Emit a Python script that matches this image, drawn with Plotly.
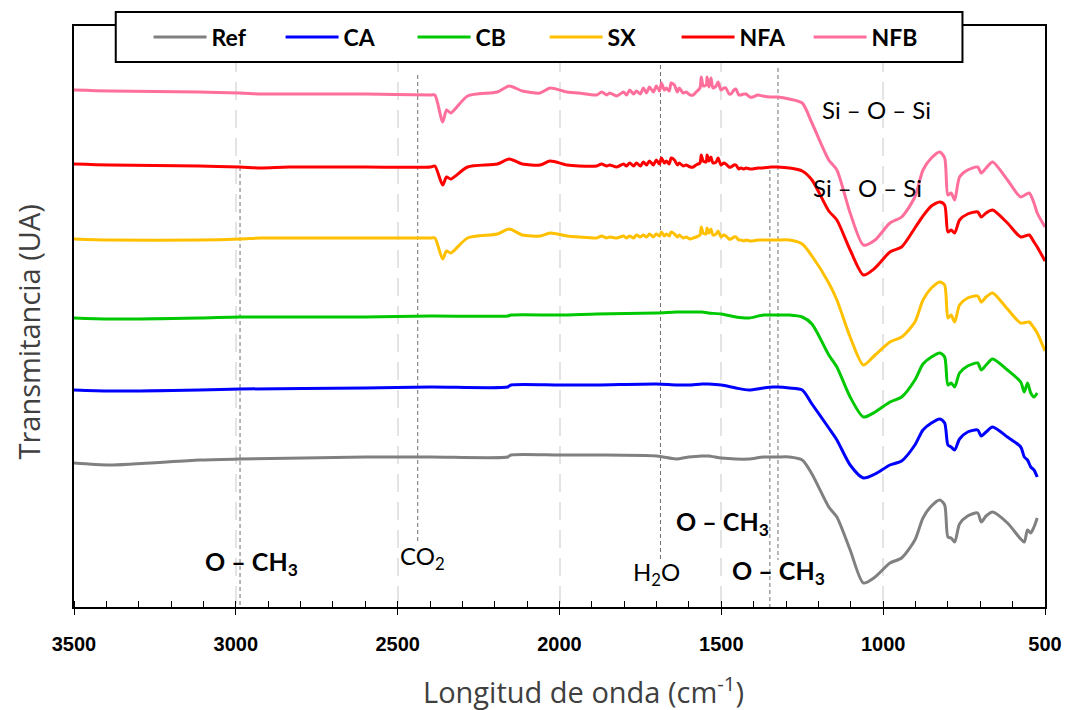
import plotly.graph_objects as go

# ---- FTIR spectra (transmittance, arbitrary units, vertically stacked) ----

# Wavenumber grid (cm-1) for SX, NFA, NFB
wn_a = [3500, 3389, 3113, 2987, 2923, 2837, 2600, 2398, 2385, 2361, 2349, 2336, 2284, 2192, 2155, 2115, 2060, 2029, 1977, 1940,
        1885, 1870, 1854, 1845, 1823, 1802, 1793, 1783, 1771, 1762,
        1750, 1741, 1731, 1722, 1710, 1701, 1691, 1685, 1676, 1670,
        1661, 1655, 1645, 1636, 1630, 1618, 1609, 1596, 1587, 1578,
        1566, 1562, 1556, 1547, 1544, 1538, 1532, 1526, 1516, 1510,
        1501, 1492, 1486, 1476, 1470, 1461, 1455, 1446, 1440, 1430,
        1424, 1412, 1403, 1387, 1372, 1347,
        1326, 1290, 1250, 1220, 1168, 1143, 1102, 1061, 1025, 979, 943, 902, 877, 851, 825, 810, 800, 790, 779, 764,
        739, 708, 697, 682, 662, 616, 575, 549, 534, 524, 500]

nfb = [517, 516, 515, 514, 513, 513, 513, 512, 512, 485, 497, 494, 511, 515, 521, 516, 514, 519, 515, 514,
       512, 515, 512, 514, 511, 515, 512, 517, 513, 516,
       513, 519, 514, 520, 515, 521, 516, 524, 517, 519,
       516, 524, 522, 515, 519, 514, 515, 512, 512, 515,
       519, 530, 521, 522, 530, 520, 529, 519, 521, 525,
       517, 519, 519, 513, 513, 517, 518, 512, 512, 513,
       513, 510, 510, 512, 511, 510,
       510, 508, 504, 484, 447, 437, 394, 362, 367, 384, 390, 410, 437, 449, 455, 449, 412, 414, 407, 430,
       437, 440, 434, 439, 445, 427, 410, 414, 404, 394, 380]

nfa = [443, 442, 441, 440, 439, 440, 440, 440, 441, 422, 430, 428, 440, 443, 448, 443, 442, 446, 442, 441,
       441, 443, 441, 442, 440, 443, 441, 444, 441, 444,
       441, 445, 442, 446, 442, 447, 443, 449, 444, 446,
       443, 449, 447, 442, 444, 441, 442, 440, 440, 442,
       444, 452, 446, 445, 452, 446, 450, 444, 445, 449,
       442, 444, 443, 440, 440, 442, 442, 438, 439, 438,
       439, 438, 438, 439, 439, 440,
       440, 439, 436, 427, 396, 387, 357, 332, 339, 355, 360, 379, 391, 401, 405, 402, 375, 377, 374, 387,
       393, 395, 390, 394, 397, 384, 370, 372, 365, 360, 346]

sx = [368, 367, 367, 368, 369, 369, 369, 369, 369, 348, 356, 354, 369, 373, 378, 372, 371, 374, 371, 370,
      369, 371, 369, 370, 369, 371, 369, 371, 369, 372,
      370, 372, 370, 373, 370, 373, 371, 375, 371, 373,
      371, 375, 373, 370, 372, 369, 370, 368, 369, 370,
      372, 380, 374, 373, 379, 374, 378, 372, 373, 376,
      370, 372, 371, 368, 368, 370, 370, 367, 367, 366,
      367, 366, 366, 367, 367, 367,
      367, 367, 363, 351, 324, 307, 270, 242, 252, 265, 270, 285, 307, 319, 325, 322, 289, 292, 285, 302,
      309, 311, 305, 310, 314, 298, 284, 285, 279, 274, 256]

# Wavenumber grid (cm-1) for Ref, CA, CB
wn_b = [3500, 3389, 3113, 2987, 2600, 2398, 2160, 2150, 2000, 1885,
        1700, 1640, 1600, 1560, 1540, 1500, 1455, 1415, 1370, 1340,
        1326, 1290, 1250, 1220, 1168, 1143, 1102, 1061, 1025, 979,
        943, 902, 877, 851, 825, 810, 800, 790, 779, 764,
        739, 708, 697, 682, 662, 616, 575, 564, 554, 544,
        534, 524]

cb = [289, 288, 289, 290, 290, 291, 291, 292, 292, 293,
      294, 295, 295, 295, 294, 293, 290, 289, 292, 292,
      292, 292, 290, 283, 252, 240, 210, 190, 195, 205,
      210, 227, 243, 250, 254, 250, 222, 224, 220, 234,
      241, 244, 237, 242, 248, 237, 225, 215, 224, 214,
      210, 214]

ca = [217, 216, 217, 218, 219, 220, 220, 222, 222, 222,
      223, 222, 222, 223, 223, 222, 219, 217, 219, 220,
      220, 219, 217, 203, 179, 167, 142, 129, 133, 142,
      146, 162, 177, 184, 188, 184, 162, 160, 157, 168,
      175, 177, 171, 175, 180, 170, 160, 150, 147, 140,
      137, 130]

ref = [144, 142, 147, 148, 150, 150, 150, 152, 152, 152,
       151, 148, 150, 151, 151, 149, 148, 148, 150, 150,
       150, 150, 147, 133, 100, 90, 57, 24, 30, 44,
       49, 67, 89, 101, 107, 102, 70, 69, 65, 83,
       91, 94, 85, 91, 95, 84, 68, 65, 77, 74,
       80, 89]

series = [
    ("Ref", wn_b, ref, "#808080"),
    ("CA", wn_b, ca, "#0000FF"),
    ("CB", wn_b, cb, "#00C800"),
    ("SX", wn_a, sx, "#FFC000"),
    ("NFA", wn_a, nfa, "#FF0000"),
    ("NFB", wn_a, nfb, "#FF6F9C"),
]

# Band assignments: (label, wavenumber, y of label, bold)
band_labels = [
    ("O – CH<sub>3</sub>", 2953, 44, True),
    ("CO<sub>2</sub>", 2422, 50, False),
    ("H<sub>2</sub>O", 1701, 34, False),
    ("O – CH<sub>3</sub>", 1495, 84, True),
    ("O – CH<sub>3</sub>", 1323, 35, True),
    ("Si – O – Si", 1022, 498, False),
    ("Si – O – Si", 1047, 420, False),
]

# Reference marker lines: (wavenumber, y top, y bottom)
band_lines = [
    (2987, 447, 0),
    (2438, 532, 64),
    (1688, 542, 47),
    (1350, 437, 0),
    (1325, 539, 47),
]

fig = go.Figure()
for name, wn, vals, color in series:
    fig.add_trace(go.Scatter(x=wn, y=vals, mode="lines", name=name,
                             line=dict(color=color, width=3, shape="spline", smoothing=0.7)))

for wn, y0, y1 in band_lines:
    fig.add_shape(type="line", x0=wn, x1=wn, y0=y0, y1=y1, xref="x", yref="y",
                  line=dict(color="#707070", width=1, dash="4px,3px"), layer="below")

for text, wn, y, bold in band_labels:
    fig.add_annotation(x=wn, y=y, xref="x", yref="y", showarrow=False,
                       text=f"<b>{text}</b>" if bold else text,
                       font=dict(family="Lato", size=25 if bold else 24, color="#000000"))

# Axis titles
title_font = dict(family="Open Sans", size=29, color="#404040")
fig.add_annotation(text="Longitud de onda (cm<sup>-1</sup>)", xref="paper", yref="paper",
                   x=0.525, y=-0.143, xanchor="center", yanchor="middle",
                   showarrow=False, font=title_font)
fig.add_annotation(text="Transmitancia (UA)", xref="paper", yref="paper", textangle=-90,
                   x=-0.047, y=0.473, xanchor="center", yanchor="middle",
                   showarrow=False, font=title_font)

# Legend frame
fig.add_shape(type="rect", xref="paper", yref="paper", x0=0.043, x1=0.915, y0=0.938, y1=1.024,
              fillcolor="white", line=dict(color="black", width=2), layer="above")

fig.update_layout(
    width=1074, height=710,
    margin=dict(l=74, r=23, t=26, b=103),
    paper_bgcolor="white", plot_bgcolor="white",
    showlegend=True,
    legend=dict(orientation="h", x=0.0768, xanchor="left", y=0.981, yanchor="middle",
                bgcolor="rgba(0,0,0,0)", borderwidth=0,
                font=dict(family="Lato", size=23, color="#000000", weight="bold"),
                entrywidth=64, entrywidthmode="pixels", itemwidth=53,
                traceorder="normal"),
    xaxis=dict(range=[3500, 500], dtick=500, showgrid=True, gridcolor="#E4E4E4", gridwidth=2,
               griddash="18px,10px", zeroline=False,
               showline=True, linecolor="black", linewidth=2, mirror=True,
               ticks="outside", ticklen=6, tickcolor="black", tickwidth=1,
               minor=dict(dtick=100, ticks="inside", ticklen=6, tickcolor="black", showgrid=False),
               tickfont=dict(family="Liberation Sans", size=20, color="black", weight="bold"),
               ticklabelstandoff=12),
    yaxis=dict(range=[0, 581], showticklabels=False, showgrid=False, zeroline=False,
               showline=True, linecolor="black", linewidth=2, mirror=True, ticks=""),
)

fig.write_html("out.html")
